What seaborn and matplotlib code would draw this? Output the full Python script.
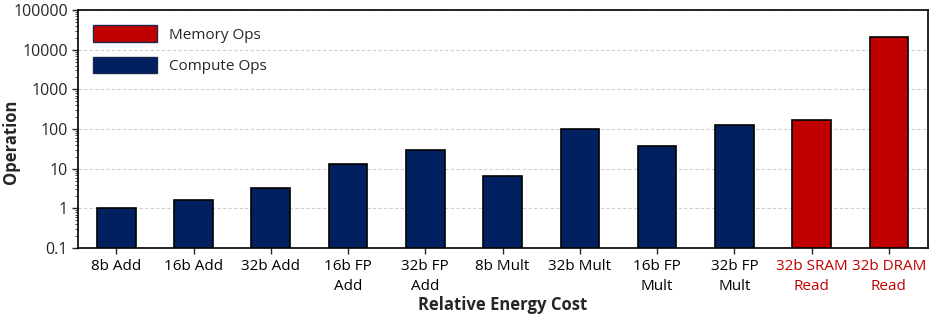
import numpy as np
import pandas as pd
import matplotlib.pyplot as plt
import matplotlib.ticker as mticker
from matplotlib.patches import Patch
import seaborn as sns

sns.set_theme(style='white')
plt.rcParams['font.family'] = ['Open Sans', 'DejaVu Sans']

operations = ['8b Add', '16b Add', '32b Add', '16b FP\nAdd', '32b FP\nAdd',
              '8b Mult', '32b Mult', '16b FP\nMult', '32b FP\nMult',
              '32b SRAM\nRead', '32b DRAM\nRead']
energy = [1, 1.67, 3.3, 13.3, 30, 6.7, 103, 37, 123, 167, 21333]
kind = ['Compute Ops'] * 9 + ['Memory Ops'] * 2

colors = {'Memory Ops': '#C00000', 'Compute Ops': '#002060'}

df = pd.DataFrame({'op': operations, 'energy': energy, 'kind': kind})

fig, ax = plt.subplots(figsize=(9.35, 3.14), dpi=100)
sns.barplot(data=df, x='op', y='energy', hue='kind', palette=colors,
            dodge=False, width=0.5, edgecolor='black', linewidth=1.2,
            saturation=1, legend=False, ax=ax)

ax.set_yscale('log')
ax.set_ylim(0.1, 100000)
ax.yaxis.set_major_locator(mticker.LogLocator(base=10, numticks=10))
ax.yaxis.set_major_formatter(mticker.FuncFormatter(lambda v, p: f'{v:g}' if v < 1 else f'{int(round(v))}'))
ax.yaxis.set_minor_locator(mticker.LogLocator(base=10, subs=np.arange(2, 10), numticks=20))
ax.yaxis.set_minor_formatter(mticker.NullFormatter())
ax.grid(axis='y', which='major', color='#cfcfcf', linestyle=(0, (3, 2)), linewidth=0.8)
ax.set_axisbelow(True)

for s in ax.spines.values():
    s.set_color('black')
    s.set_linewidth(1.2)

ax.tick_params(axis='y', which='major', left=True, length=4, width=1, labelsize=11.5, pad=3)
ax.tick_params(axis='y', which='minor', left=True, length=2, width=0.6)
ax.tick_params(axis='x', bottom=True, length=4, width=1, labelsize=11, pad=4)
ax.set_xlim(-0.5, len(operations) - 0.5)

for lbl, k in zip(ax.get_xticklabels(), kind):
    lbl.set_color(colors[k] if k == 'Memory Ops' else 'black')
    lbl.set_linespacing(1.45)

ax.set_xlabel('Relative Energy Cost', fontsize=12, fontweight='bold')
ax.xaxis.set_label_coords(0.5, -0.2)
ax.set_ylabel('Operation', fontsize=12, fontweight='bold')
ax.yaxis.set_label_coords(-0.068, 0.445)

handles = [Patch(facecolor=colors['Memory Ops'], edgecolor='#1a2a50', label='Memory Ops'),
           Patch(facecolor=colors['Compute Ops'], edgecolor='#1a2a50', label='Compute Ops')]
ax.legend(handles=handles, loc='upper left', frameon=False, fontsize=11,
          handlelength=4.2, handleheight=1.3, handletextpad=0.8,
          labelspacing=0.9, borderaxespad=0.6, borderpad=0.4)

fig.subplots_adjust(left=0.083, right=0.992, top=0.968, bottom=0.21)
fig.savefig('out.png', dpi=100)
